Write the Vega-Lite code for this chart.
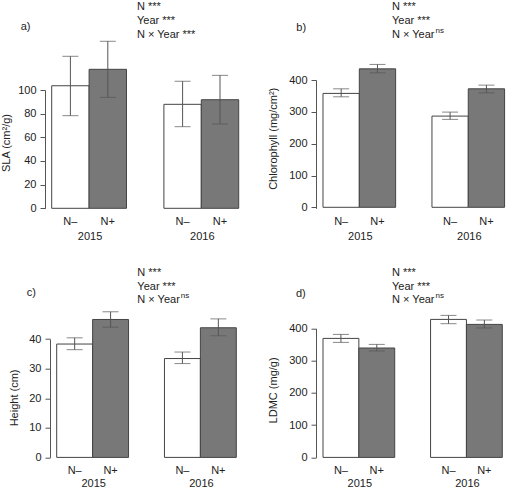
{
  "$schema": "https://vega.github.io/schema/vega-lite/v6.json",
  "padding": 0,
  "autosize": {"type": "pad"},
  "background": "white",
  "config": {
    "view": {"stroke": null},
    "font": "Liberation Sans",
    "axis": {"labelFontSize": 11, "labelColor": "#222", "titleFontSize": 11, "titleFontWeight": "normal", "titleColor": "#222", "tickColor": "#555", "domainColor": "#555", "grid": false}
  },
  "datasets": {
    "d": [
      {"panel": "a", "slot": "2015 N–", "n": "N–", "mean": 103.6, "lo": 78.3, "hi": 128.5},
      {"panel": "a", "slot": "2015 N+", "n": "N+", "mean": 117.5, "lo": 93.8, "hi": 141.2},
      {"panel": "a", "slot": "2016 N–", "n": "N–", "mean": 87.9, "lo": 69.0, "hi": 107.4},
      {"panel": "a", "slot": "2016 N+", "n": "N+", "mean": 91.8, "lo": 71.3, "hi": 112.4},
      {"panel": "b", "slot": "2015 N–", "n": "N–", "mean": 358.2, "lo": 347.5, "hi": 372.6},
      {"panel": "b", "slot": "2015 N+", "n": "N+", "mean": 435.4, "lo": 422.9, "hi": 449.3},
      {"panel": "b", "slot": "2016 N–", "n": "N–", "mean": 286.8, "lo": 276.5, "hi": 299.4},
      {"panel": "b", "slot": "2016 N+", "n": "N+", "mean": 372.6, "lo": 360.0, "hi": 384.2},
      {"panel": "c", "slot": "2015 N–", "n": "N–", "mean": 38.3, "lo": 36.4, "hi": 40.4},
      {"panel": "c", "slot": "2015 N+", "n": "N+", "mean": 46.6, "lo": 44.0, "hi": 49.2},
      {"panel": "c", "slot": "2016 N–", "n": "N–", "mean": 33.4, "lo": 31.7, "hi": 35.6},
      {"panel": "c", "slot": "2016 N+", "n": "N+", "mean": 43.8, "lo": 41.1, "hi": 46.8},
      {"panel": "d", "slot": "2015 N–", "n": "N–", "mean": 369.0, "lo": 356.6, "hi": 381.4},
      {"panel": "d", "slot": "2015 N+", "n": "N+", "mean": 339.2, "lo": 330.0, "hi": 350.4},
      {"panel": "d", "slot": "2016 N–", "n": "N–", "mean": 427.9, "lo": 414.6, "hi": 440.3},
      {"panel": "d", "slot": "2016 N+", "n": "N+", "mean": 412.4, "lo": 401.2, "hi": 426.0}
    ]
  },
  "bounds": "flush",
  "columns": 2,
  "spacing": {"row": 53.7, "column": 70},
  "concat": [
    {
      "width": 200.7, "height": 208.3,
      "data": {"name": "d"},
      "transform": [{"filter": "datum.panel == 'a'"}],
      "resolve": {"axis": {"x": "independent", "y": "independent"}},
      "layer": [
        {"mark": {"type": "bar", "stroke": "#444", "strokeWidth": 1},
         "encoding": {
           "x": {"field": "slot", "type": "nominal", "scale": {"domain": ["2015 N–", "2015 N+", "gap", "2016 N–", "2016 N+"], "paddingInner": 0, "paddingOuter": 0.183, "align": 0.489},
                 "axis": {"orient": "bottom", "title": null, "domain": false, "ticks": false, "tickSize": 0, "labelPadding": 7, "labelAngle": 0, "labelOverlap": false, "labelExpr": "datum.value == 'gap' ? '' : slice(datum.value, 5)"}},
           "y": {"field": "mean", "type": "quantitative", "scale": {"domain": [0, 176.1], "nice": false, "zero": false},
                 "axis": {"orient": "left", "values": [0, 20, 40, 60, 80, 100], "tickSize": 5, "domainDash": [118.3, 2000], "labelPadding": 4, "title": "SLA (cm²/g)", "titleX": -34, "titleY": 142.5, "titleBaseline": "bottom", "titleAngle": 270}},
           "y2": {"datum": 0},
           "fill": {"field": "n", "type": "nominal", "scale": {"domain": ["N–", "N+"], "range": ["#ffffff", "#787878"]}, "legend": null}
         }},
        {"mark": {"type": "rule", "color": "#555", "strokeWidth": 1},
         "encoding": {"x": {"field": "slot", "type": "nominal", "axis": null}, "y": {"field": "lo", "type": "quantitative", "axis": null}, "y2": {"field": "hi"}}},
        {"mark": {"type": "tick", "size": 16, "thickness": 1, "color": "#555"},
         "encoding": {"x": {"field": "slot", "type": "nominal",
                 "axis": {"orient": "bottom", "title": null, "domain": false, "ticks": false, "tickSize": 0, "labelOffset": 19.7, "labelPadding": 22.5, "labelAngle": 0, "labelOverlap": false, "labelExpr": "datum.value == '2015 N–' ? '2015' : datum.value == '2016 N–' ? '2016' : ''"}},
                      "y": {"field": "lo", "type": "quantitative", "axis": null}}},
        {"mark": {"type": "tick", "size": 16, "thickness": 1, "color": "#555"},
         "encoding": {"x": {"field": "slot", "type": "nominal", "axis": null}, "y": {"field": "hi", "type": "quantitative", "axis": null}}},
        {"data": {"values": [{}]},
         "mark": {"type": "text", "text": ["N ***", "Year ***", "N × Year ***"], "align": "left", "baseline": "alphabetic", "lineHeight": 14, "fontSize": 11, "color": "#222"},
         "encoding": {"x": {"datum": "gap", "type": "nominal", "bandPosition": 0.28, "axis": null}, "y": {"datum": 168.0, "type": "quantitative", "axis": null}}},
        {"data": {"values": [{}]},
         "mark": {"type": "text", "text": "a)", "align": "left", "baseline": "alphabetic", "fontSize": 11, "color": "#222"},
         "encoding": {"x": {"datum": "2015 N–", "type": "nominal", "bandPosition": -0.83, "axis": null}, "y": {"datum": 151.1, "type": "quantitative", "axis": null}}}
      ]
    },
    {
      "width": 190.6, "height": 208.3,
      "data": {"name": "d"},
      "transform": [{"filter": "datum.panel == 'b'"}],
      "resolve": {"axis": {"x": "independent", "y": "independent"}},
      "layer": [
        {"mark": {"type": "bar", "stroke": "#444", "strokeWidth": 1},
         "encoding": {
           "x": {"field": "slot", "type": "nominal", "scale": {"domain": ["2015 N–", "2015 N+", "gap", "2016 N–", "2016 N+"], "paddingInner": 0, "paddingOuter": 0.124, "align": 0.777},
                 "axis": {"orient": "bottom", "title": null, "domain": false, "ticks": false, "tickSize": 0, "labelPadding": 7, "labelAngle": 0, "labelOverlap": false, "labelExpr": "datum.value == 'gap' ? '' : slice(datum.value, 5)"}},
           "y": {"field": "mean", "type": "quantitative", "scale": {"domain": [-3.14, 651.9], "nice": false, "zero": false},
                 "axis": {"orient": "left", "values": [0, 100, 200, 300, 400], "tickSize": 5, "domainDash": [128.3, 2000], "labelPadding": 4, "title": "Chlorophyll (mg/cm²)", "titleX": -37.5, "titleY": 138.3, "titleBaseline": "bottom", "titleAngle": 270}},
           "y2": {"datum": 0},
           "fill": {"field": "n", "type": "nominal", "scale": {"domain": ["N–", "N+"], "range": ["#ffffff", "#787878"]}, "legend": null}
         }},
        {"mark": {"type": "rule", "color": "#555", "strokeWidth": 1},
         "encoding": {"x": {"field": "slot", "type": "nominal", "axis": null}, "y": {"field": "lo", "type": "quantitative", "axis": null}, "y2": {"field": "hi"}}},
        {"mark": {"type": "tick", "size": 16, "thickness": 1, "color": "#555"},
         "encoding": {"x": {"field": "slot", "type": "nominal",
                 "axis": {"orient": "bottom", "title": null, "domain": false, "ticks": false, "tickSize": 0, "labelOffset": 19.2, "labelPadding": 22.5, "labelAngle": 0, "labelOverlap": false, "labelExpr": "datum.value == '2015 N–' ? '2015' : datum.value == '2016 N–' ? '2016' : ''"}},
                      "y": {"field": "lo", "type": "quantitative", "axis": null}}},
        {"mark": {"type": "tick", "size": 16, "thickness": 1, "color": "#555"},
         "encoding": {"x": {"field": "slot", "type": "nominal", "axis": null}, "y": {"field": "hi", "type": "quantitative", "axis": null}}},
        {"data": {"values": [{}]},
         "mark": {"type": "text", "text": ["N ***", "Year ***", "N × Year"], "align": "left", "baseline": "alphabetic", "lineHeight": 14, "fontSize": 11, "color": "#222"},
         "encoding": {"x": {"datum": "gap", "type": "nominal", "bandPosition": -0.1, "axis": null}, "y": {"datum": 621.4, "type": "quantitative", "axis": null}}},
        {"data": {"values": [{}]},
         "mark": {"type": "text", "text": "ns", "align": "left", "baseline": "alphabetic", "fontSize": 8, "dx": 43.5, "dy": -5, "color": "#222"},
         "encoding": {"x": {"datum": "gap", "type": "nominal", "bandPosition": -0.1, "axis": null}, "y": {"datum": 533.5, "type": "quantitative", "axis": null}}},
        {"data": {"values": [{}]},
         "mark": {"type": "text", "text": "b)", "align": "left", "baseline": "alphabetic", "fontSize": 11, "color": "#222"},
         "encoding": {"x": {"datum": "2015 N–", "type": "nominal", "bandPosition": -0.735, "axis": null}, "y": {"datum": 553.9, "type": "quantitative", "axis": null}}}
      ]
    },
    {
      "width": 198.3, "height": 194.7,
      "data": {"name": "d"},
      "transform": [{"filter": "datum.panel == 'c'"}],
      "resolve": {"axis": {"x": "independent", "y": "independent"}},
      "layer": [
        {"mark": {"type": "bar", "stroke": "#444", "strokeWidth": 1},
         "encoding": {
           "x": {"field": "slot", "type": "nominal", "scale": {"domain": ["2015 N–", "2015 N+", "gap", "2016 N–", "2016 N+"], "paddingInner": 0, "paddingOuter": 0.2603, "align": 0.6257},
                 "axis": {"orient": "bottom", "title": null, "domain": false, "ticks": false, "tickSize": 0, "labelPadding": 7, "labelAngle": 0, "labelOverlap": false, "labelExpr": "datum.value == 'gap' ? '' : slice(datum.value, 5)"}},
           "y": {"field": "mean", "type": "quantitative", "scale": {"domain": [0, 65.78], "nice": false, "zero": false},
                 "axis": {"orient": "left", "values": [0, 10, 20, 30, 40], "offset": -5, "tickSize": 5, "domainDash": [118.4, 2000], "labelPadding": 4, "title": "Height (cm)", "titleX": -30.7, "titleY": 134.7, "titleBaseline": "bottom", "titleAngle": 270}},
           "y2": {"datum": 0},
           "fill": {"field": "n", "type": "nominal", "scale": {"domain": ["N–", "N+"], "range": ["#ffffff", "#787878"]}, "legend": null}
         }},
        {"mark": {"type": "rule", "color": "#555", "strokeWidth": 1},
         "encoding": {"x": {"field": "slot", "type": "nominal", "axis": null}, "y": {"field": "lo", "type": "quantitative", "axis": null}, "y2": {"field": "hi"}}},
        {"mark": {"type": "tick", "size": 16, "thickness": 1, "color": "#555"},
         "encoding": {"x": {"field": "slot", "type": "nominal",
                 "axis": {"orient": "bottom", "title": null, "domain": false, "ticks": false, "tickSize": 0, "labelOffset": 19.0, "labelPadding": 20.5, "labelAngle": 0, "labelOverlap": false, "labelExpr": "datum.value == '2015 N–' ? '2015' : datum.value == '2016 N–' ? '2016' : ''"}},
                      "y": {"field": "lo", "type": "quantitative", "axis": null}}},
        {"mark": {"type": "tick", "size": 16, "thickness": 1, "color": "#555"},
         "encoding": {"x": {"field": "slot", "type": "nominal", "axis": null}, "y": {"field": "hi", "type": "quantitative", "axis": null}}},
        {"data": {"values": [{}]},
         "mark": {"type": "text", "text": ["N ***", "Year ***", "N × Year"], "align": "left", "baseline": "alphabetic", "lineHeight": 13.7, "fontSize": 11, "color": "#222"},
         "encoding": {"x": {"datum": "gap", "type": "nominal", "bandPosition": 0.245, "axis": null}, "y": {"datum": 61.28, "type": "quantitative", "axis": null}}},
        {"data": {"values": [{}]},
         "mark": {"type": "text", "text": "ns", "align": "left", "baseline": "alphabetic", "fontSize": 8, "dx": 43.5, "dy": -5, "color": "#222"},
         "encoding": {"x": {"datum": "gap", "type": "nominal", "bandPosition": 0.245, "axis": null}, "y": {"datum": 52.03, "type": "quantitative", "axis": null}}},
        {"data": {"values": [{}]},
         "mark": {"type": "text", "text": "c)", "align": "left", "baseline": "alphabetic", "fontSize": 11, "color": "#222"},
         "encoding": {"x": {"datum": "2015 N–", "type": "nominal", "bandPosition": -0.835, "axis": null}, "y": {"datum": 54.63, "type": "quantitative", "axis": null}}}
      ]
    },
    {
      "width": 189.3, "height": 194.7,
      "data": {"name": "d"},
      "transform": [{"filter": "datum.panel == 'd'"}],
      "resolve": {"axis": {"x": "independent", "y": "independent"}},
      "layer": [
        {"mark": {"type": "bar", "stroke": "#444", "strokeWidth": 1},
         "encoding": {
           "x": {"field": "slot", "type": "nominal", "scale": {"domain": ["2015 N–", "2015 N+", "gap", "2016 N–", "2016 N+"], "paddingInner": 0, "paddingOuter": 0.1395, "align": 0.6997},
                 "axis": {"orient": "bottom", "title": null, "domain": false, "ticks": false, "tickSize": 0, "labelPadding": 7, "labelAngle": 0, "labelOverlap": false, "labelExpr": "datum.value == 'gap' ? '' : slice(datum.value, 5)"}},
           "y": {"field": "mean", "type": "quantitative", "scale": {"domain": [0, 603.7], "nice": false, "zero": false},
                 "axis": {"orient": "left", "values": [0, 100, 200, 300, 400], "tickSize": 5, "domainDash": [129.0, 2000], "labelPadding": 4, "title": "LDMC (mg/g)", "titleX": -37.9, "titleY": 127.2, "titleBaseline": "bottom", "titleAngle": 270}},
           "y2": {"datum": 0},
           "fill": {"field": "n", "type": "nominal", "scale": {"domain": ["N–", "N+"], "range": ["#ffffff", "#787878"]}, "legend": null}
         }},
        {"mark": {"type": "rule", "color": "#555", "strokeWidth": 1},
         "encoding": {"x": {"field": "slot", "type": "nominal", "axis": null}, "y": {"field": "lo", "type": "quantitative", "axis": null}, "y2": {"field": "hi"}}},
        {"mark": {"type": "tick", "size": 16, "thickness": 1, "color": "#555"},
         "encoding": {"x": {"field": "slot", "type": "nominal",
                 "axis": {"orient": "bottom", "title": null, "domain": false, "ticks": false, "tickSize": 0, "labelOffset": 18.9, "labelPadding": 20.5, "labelAngle": 0, "labelOverlap": false, "labelExpr": "datum.value == '2015 N–' ? '2015' : datum.value == '2016 N–' ? '2016' : ''"}},
                      "y": {"field": "lo", "type": "quantitative", "axis": null}}},
        {"mark": {"type": "tick", "size": 16, "thickness": 1, "color": "#555"},
         "encoding": {"x": {"field": "slot", "type": "nominal", "axis": null}, "y": {"field": "hi", "type": "quantitative", "axis": null}}},
        {"data": {"values": [{}]},
         "mark": {"type": "text", "text": ["N ***", "Year ***", "N × Year"], "align": "left", "baseline": "alphabetic", "lineHeight": 13.7, "fontSize": 11, "color": "#222"},
         "encoding": {"x": {"datum": "gap", "type": "nominal", "bandPosition": -0.075, "axis": null}, "y": {"datum": 562.5, "type": "quantitative", "axis": null}}},
        {"data": {"values": [{}]},
         "mark": {"type": "text", "text": "ns", "align": "left", "baseline": "alphabetic", "fontSize": 8, "dx": 43.5, "dy": -5, "color": "#222"},
         "encoding": {"x": {"datum": "gap", "type": "nominal", "bandPosition": -0.075, "axis": null}, "y": {"datum": 477.5, "type": "quantitative", "axis": null}}},
        {"data": {"values": [{}]},
         "mark": {"type": "text", "text": "d)", "align": "left", "baseline": "alphabetic", "fontSize": 11, "color": "#222"},
         "encoding": {"x": {"datum": "2015 N–", "type": "nominal", "bandPosition": -0.753, "axis": null}, "y": {"datum": 498.3, "type": "quantitative", "axis": null}}}
      ]
    }
  ]
}
